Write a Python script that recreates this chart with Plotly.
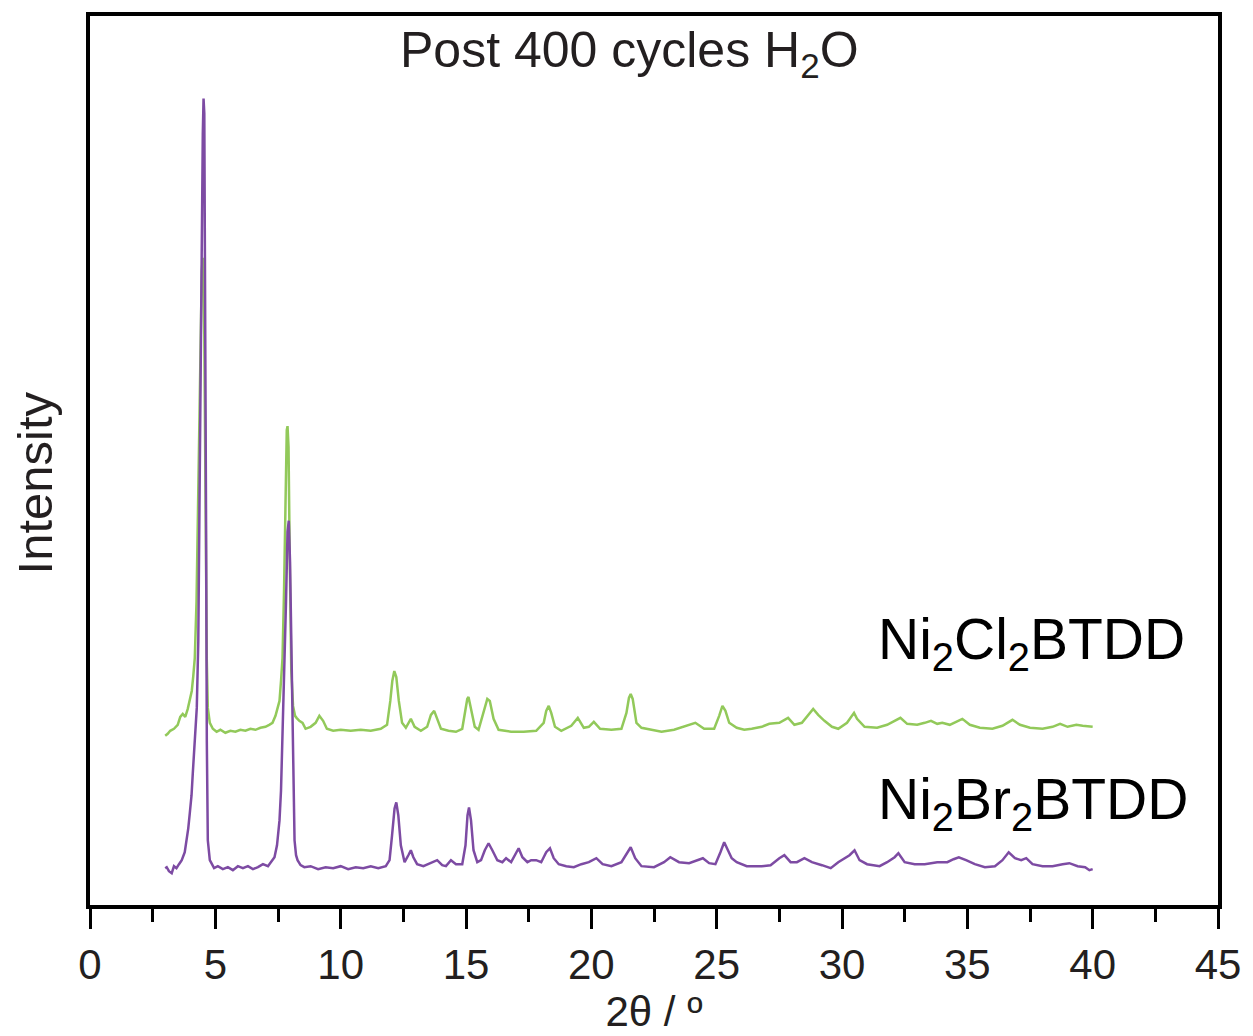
import plotly.graph_objects as go

# Powder XRD patterns after 400 water adsorption cycles (intensity in arbitrary units, traces offset)
two_theta_br = [
    3.00, 3.06, 3.15, 3.26, 3.35, 3.45, 3.55, 3.66, 3.78, 3.86, 3.92, 3.98, 4.05, 4.10, 4.18, 4.26,
    4.32, 4.40, 4.46, 4.50, 4.53, 4.56, 4.60, 4.63, 4.66, 4.70, 4.78, 4.86, 4.95, 5.10, 5.30, 5.50,
    5.70, 5.90, 6.10, 6.30, 6.50, 6.70, 6.90, 7.10, 7.25, 7.36, 7.46, 7.56, 7.62, 7.68, 7.75, 7.82,
    7.88, 7.93, 7.98, 8.03, 8.08, 8.16, 8.22, 8.28, 8.40, 8.55, 8.80, 9.10, 9.40, 9.70, 10.0, 10.3,
    10.6, 10.9, 11.2, 11.5, 11.8, 11.95, 12.05, 12.15, 12.22, 12.30, 12.40, 12.55, 12.70, 12.80, 12.90, 13.05,
    13.30, 13.55, 13.85, 14.05, 14.20, 14.40, 14.60, 14.85, 14.98, 15.06, 15.12, 15.20, 15.30, 15.45, 15.60, 15.75,
    15.90, 16.05, 16.25, 16.45, 16.60, 16.80, 17.00, 17.10, 17.25, 17.45, 17.60, 17.80, 18.00, 18.20, 18.35, 18.50,
    18.70, 19.00, 19.30, 19.60, 19.90, 20.20, 20.45, 20.80, 21.20, 21.45, 21.57, 21.75, 22.00, 22.50, 22.90, 23.15,
    23.50, 23.90, 24.20, 24.45, 24.70, 24.95, 25.15, 25.30, 25.45, 25.60, 25.80, 26.20, 26.80, 27.15, 27.50, 27.70,
    27.95, 28.20, 28.50, 28.80, 29.20, 29.55, 29.85, 30.10, 30.30, 30.50, 30.70, 31.00, 31.50, 31.80, 32.10, 32.25,
    32.50, 32.90, 33.30, 33.80, 34.20, 34.45, 34.66, 34.95, 35.30, 35.70, 36.10, 36.40, 36.65, 36.90, 37.15, 37.35,
    37.60, 38.00, 38.40, 38.80, 39.07, 39.40, 39.70, 39.87, 40.00,
]
intensity_br = [
    37, 38, 34, 32, 39, 37, 41, 45, 53, 65, 77, 92, 110, 132, 160, 198,
    265, 455, 665, 775, 810, 795, 625, 385, 165, 65, 45, 41, 37, 39, 36, 38,
    35, 39, 37, 39, 36, 38, 41, 39, 44, 48, 60, 85, 115, 165, 225, 305,
    375, 386, 345, 255, 165, 65, 50, 45, 40, 38, 39, 36, 38, 37, 39, 36,
    38, 37, 39, 37, 39, 45, 70, 97, 103, 90, 60, 43, 50, 55, 48, 41,
    39, 42, 45, 40, 39, 45, 41, 41, 60, 90, 98, 85, 55, 43, 45, 55,
    62, 55, 45, 43, 47, 43, 53, 57, 48, 43, 45, 45, 43, 53, 57, 47,
    41, 39, 38, 41, 43, 47, 41, 39, 43, 53, 58, 47, 39, 38, 43, 48,
    43, 42, 45, 47, 42, 41, 53, 63, 55, 47, 43, 39, 39, 40, 47, 50,
    43, 43, 47, 43, 40, 37, 43, 47, 50, 55, 45, 41, 39, 43, 48, 52,
    43, 41, 41, 43, 43, 46, 48, 45, 41, 38, 39, 45, 53, 47, 45, 47,
    41, 39, 39, 41, 42, 39, 38, 35, 36,
]

two_theta_cl = [
    3.00, 3.10, 3.20, 3.35, 3.50, 3.60, 3.70, 3.80, 3.90, 4.00, 4.06, 4.12, 4.18, 4.25, 4.32, 4.40,
    4.46, 4.50, 4.54, 4.58, 4.62, 4.66, 4.70, 4.78, 4.90, 5.05, 5.20, 5.40, 5.60, 5.80, 6.00, 6.20,
    6.40, 6.60, 6.80, 7.00, 7.15, 7.28, 7.40, 7.50, 7.56, 7.62, 7.68, 7.74, 7.80, 7.85, 7.88, 7.92,
    7.97, 8.03, 8.10, 8.18, 8.24, 8.35, 8.48, 8.60, 8.80, 9.00, 9.15, 9.30, 9.45, 9.70, 10.0, 10.4,
    10.8, 11.2, 11.6, 11.85, 11.98, 12.06, 12.14, 12.22, 12.32, 12.45, 12.60, 12.80, 12.95, 13.20, 13.45, 13.60,
    13.73, 13.85, 14.00, 14.30, 14.60, 14.85, 14.95, 15.05, 15.10, 15.20, 15.35, 15.50, 15.70, 15.85, 15.95, 16.10,
    16.30, 16.80, 17.30, 17.80, 18.10, 18.20, 18.30, 18.40, 18.55, 18.80, 19.20, 19.46, 19.70, 19.90, 20.10, 20.35,
    20.80, 21.20, 21.40, 21.50, 21.57, 21.65, 21.80, 22.00, 22.40, 22.80, 23.30, 23.80, 24.15, 24.50, 24.90, 25.10,
    25.23, 25.35, 25.50, 25.80, 26.10, 26.40, 26.80, 27.10, 27.50, 27.85, 28.10, 28.40, 28.70, 28.85, 29.05, 29.30,
    29.60, 29.85, 30.20, 30.40, 30.48, 30.60, 30.90, 31.40, 31.80, 32.10, 32.33, 32.60, 33.00, 33.30, 33.55, 33.80,
    34.00, 34.30, 34.60, 34.80, 35.10, 35.50, 36.00, 36.40, 36.80, 37.10, 37.50, 38.00, 38.40, 38.70, 39.00, 39.35,
    39.60, 39.87, 40.00,
]
intensity_cl = [
    170, 172, 175, 177, 181, 189, 192, 189, 197, 207, 215, 230, 248, 305, 425, 575,
    637, 650, 635, 505, 345, 245, 198, 183, 177, 174, 176, 173, 175, 174, 176, 175,
    177, 176, 178, 179, 181, 183, 190, 199, 205, 225, 248, 315, 425, 477, 481, 460,
    345, 235, 200, 190, 188, 185, 183, 177, 179, 183, 190, 185, 177, 175, 176, 175,
    176, 175, 177, 181, 205, 225, 235, 229, 205, 183, 178, 187, 179, 175, 179, 191,
    195, 187, 177, 175, 174, 177, 193, 207, 209, 197, 179, 176, 193, 207, 205, 187,
    176, 174, 174, 175, 183, 195, 200, 193, 179, 175, 180, 188, 178, 179, 184, 177,
    176, 177, 193, 208, 212, 207, 183, 178, 176, 174, 176, 180, 183, 177, 177, 190,
    200, 195, 183, 178, 176, 177, 179, 182, 183, 188, 181, 183, 193, 197, 191, 185,
    179, 177, 183, 191, 193, 187, 179, 178, 181, 185, 188, 182, 181, 183, 185, 182,
    183, 181, 185, 187, 181, 178, 177, 180, 186, 181, 178, 177, 179, 182, 179, 181,
    180, 179, 179,
]

x_ticks = [0, 5, 10, 15, 20, 25, 30, 35, 40, 45]

fig = go.Figure()
fig.add_trace(go.Scatter(x=two_theta_cl, y=intensity_cl, mode="lines",
                         line=dict(color="#92c95a", width=2.5), name="Ni2Cl2BTDD"))
fig.add_trace(go.Scatter(x=two_theta_br, y=intensity_br, mode="lines",
                         line=dict(color="#7d4ba3", width=2.5), name="Ni2Br2BTDD"))

font_main = "Liberation Sans, Arial, sans-serif"

fig.add_annotation(text="Post 400 cycles H<sub>2</sub>O", x=0.478, xref="paper",
                   y=855, yref="y", xanchor="center", yanchor="middle",
                   showarrow=False, font=dict(size=50, color="#231f20", family=font_main))
fig.add_annotation(text="Intensity", textangle=-90, x=-0.049, xref="paper",
                   y=0.475, yref="paper", xanchor="center", yanchor="middle",
                   showarrow=False, font=dict(size=49, color="#231f20", family=font_main))
fig.add_annotation(text="Ni<sub>2</sub>Cl<sub>2</sub>BTDD", x=31.35, y=263,
                   xanchor="left", yanchor="middle", showarrow=False,
                   font=dict(size=57, color="#000000", family=font_main))
fig.add_annotation(text="Ni<sub>2</sub>Br<sub>2</sub>BTDD", x=31.35, y=102,
                   xanchor="left", yanchor="middle", showarrow=False,
                   font=dict(size=57, color="#000000", family=font_main))

fig.update_layout(
    width=1253, height=1036,
    margin=dict(l=90, r=33, t=12, b=131),
    paper_bgcolor="white", plot_bgcolor="white",
    showlegend=False,
    font=dict(family=font_main, color="#231f20"),
)
fig.update_xaxes(
    range=[0, 45], tickvals=x_ticks, ticktext=[str(v) for v in x_ticks],
    ticks="outside", ticklen=20, tickwidth=3, tickcolor="black",
    minor=dict(dtick=2.5, tick0=0, ticks="outside", ticklen=13, tickwidth=3, tickcolor="black"),
    showline=True, linecolor="black", linewidth=4, mirror=True,
    showgrid=False, zeroline=False,
    tickfont=dict(size=42, color="#231f20"),
    title=dict(text="2θ / º", font=dict(size=42, color="#231f20"), standoff=6),
)
fig.update_yaxes(
    range=[0, 893], showticklabels=False, ticks="",
    showline=True, linecolor="black", linewidth=4, mirror=True,
    showgrid=False, zeroline=False,
)

fig.write_html("out.html")
